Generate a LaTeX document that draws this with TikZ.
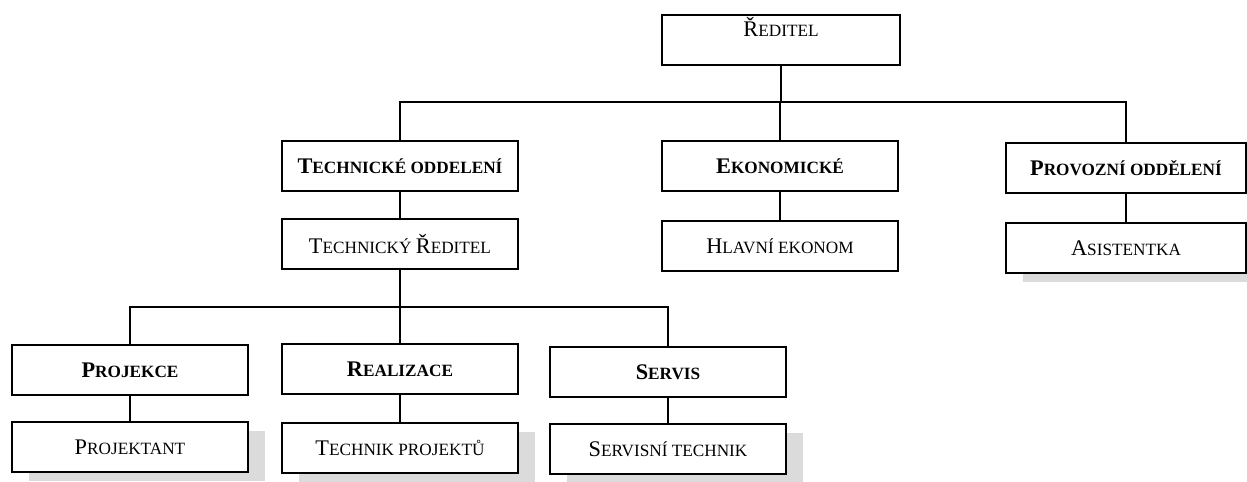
\documentclass[tikz,border=0pt]{standalone}
\usepackage{fontspec}
\setmainfont{Liberation Serif}
\usetikzlibrary{shadows}

% first letter full size, the rest as small capitals
\newcommand{\capsc}[2]{#1{\fontsize{9.8}{11}\selectfont #2}}

\begin{document}
\begin{tikzpicture}[x=0.02cm,y=-0.02cm,
    unit/.style={draw,line width=1.1pt,fill=white,minimum width=4.72cm,
      minimum height=0.99cm,inner sep=2pt,font=\fontsize{12.7}{14}\selectfont},
    head/.style={unit,font=\fontsize{12.7}{14}\selectfont\bfseries},
    shade/.style={drop shadow={shadow xshift=0.34cm,shadow yshift=-0.18cm,
      fill=black!14,opacity=1}},
    link/.style={line width=1.1pt}]
  \useasboundingbox (0,0) rectangle (1247,482);

  % top
  \node[unit,minimum width=4.76cm,text height=0.32cm,text depth=0.45cm,inner ysep=0.05cm]
    (red) at (781,40) {\capsc{Ř}{EDITEL}};

  % departments
  \node[head] (tech) at (400,166) {\capsc{T}{ECHNICKÉ ODDELENÍ}};
  \node[head] (ekon) at (780,166) {\capsc{E}{KONOMICKÉ}};
  \node[head,minimum width=4.8cm] (provoz) at (1126,168) {\capsc{P}{ROVOZNÍ ODDĚLENÍ}};

  \node[unit] (techred) at (400,244) {\capsc{T}{ECHNICKÝ }\capsc{Ř}{EDITEL}};
  \node[unit] (hlavni) at (780,246) {\capsc{H}{LAVNÍ EKONOM}};
  \node[unit,shade,minimum width=4.8cm] (asist) at (1126,248) {\capsc{A}{SISTENTKA}};

  % technical sections
  \node[head] (proj) at (130,370) {\capsc{P}{ROJEKCE}};
  \node[head] (real) at (400,369) {\capsc{R}{EALIZACE}};
  \node[head] (servis) at (668,372) {\capsc{S}{ERVIS}};

  \node[unit,shade] (projtant) at (130,447) {\capsc{P}{ROJEKTANT}};
  \node[unit,shade] (techproj) at (400,448) {\capsc{T}{ECHNIK PROJEKTŮ}};
  \node[unit,shade] (servtech) at (668,449) {\capsc{S}{ERVISNÍ TECHNIK}};

  % connectors
  \coordinate (top bus) at (781,102);
  \draw[link] (red.south) -- (top bus);
  \draw[link] (tech.north) |- (top bus) -| (provoz.north);
  \draw[link] (ekon.north) -- (ekon.north |- top bus);
  \draw[link] (tech.south) -- (techred.north);
  \draw[link] (ekon.south) -- (hlavni.north);
  \draw[link] (provoz.south) -- (asist.north);

  \coordinate (low bus) at (400,307);
  \draw[link] (techred.south) -- (low bus);
  \draw[link] (proj.north) |- (low bus) -| (servis.north);
  \draw[link] (real.north) -- (real.north |- low bus);
  \draw[link] (proj.south) -- (projtant.north);
  \draw[link] (real.south) -- (techproj.north);
  \draw[link] (servis.south) -- (servtech.north);
\end{tikzpicture}
\end{document}
